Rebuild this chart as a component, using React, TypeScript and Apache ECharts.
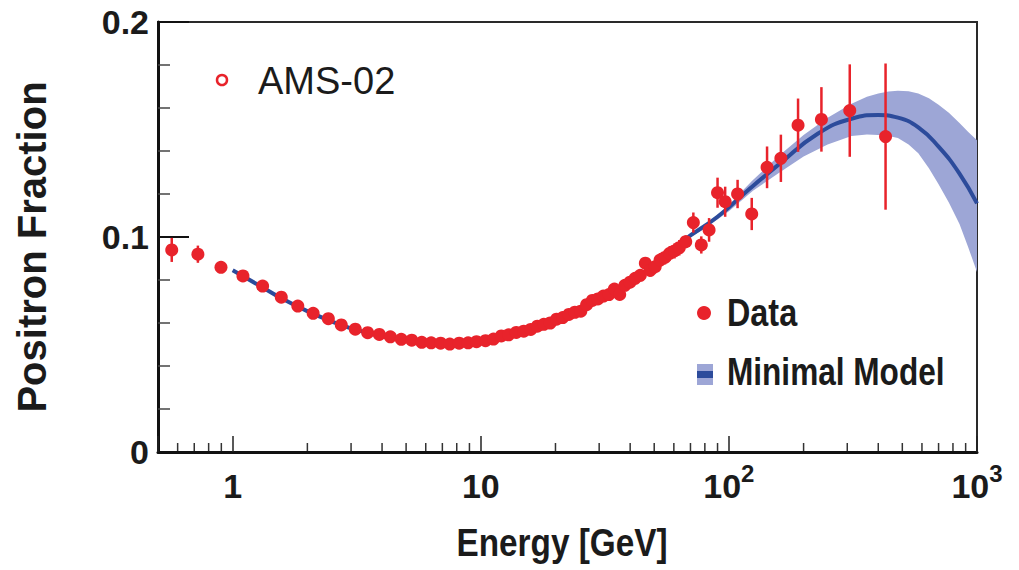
import React, { useEffect, useRef } from "react";
import * as echarts from "echarts";

// ---- Data ----
const dataEnergy = [
  0.568, 0.724, 0.897, 1.1, 1.32, 1.57, 1.83, 2.11, 2.43, 2.74, 3.12, 3.5, 3.9, 4.32, 4.78, 5.27, 5.78, 6.31,
  6.89, 7.5, 8.18, 8.89, 9.61, 10.45, 11.25, 12.1, 12.95, 13.9, 14.9, 15.9, 16.9, 17.95, 19.05, 20.2, 21.4,
  22.65, 23.95, 25.3, 26.7, 28.15, 29.65, 31.2, 32.85, 34.55, 36.3, 38.1, 39.95, 41.9, 43.95, 46.05, 48.2,
  50.45, 52.8, 55.25, 57.75, 60.35, 63.1, 67, 71.9, 77.4, 83.2, 90, 96.6, 108.4, 123.6, 142.5, 162, 190, 236,
  307, 428,
];
const dataFraction = [
  0.094, 0.092, 0.0859, 0.0819, 0.0772, 0.072, 0.0679, 0.0645, 0.062, 0.0591, 0.0571, 0.0555, 0.0547, 0.0536,
  0.0524, 0.052, 0.051, 0.0508, 0.0506, 0.0502, 0.0506, 0.0508, 0.0513, 0.0518, 0.0525, 0.054, 0.0545, 0.0556,
  0.0562, 0.057, 0.0585, 0.0594, 0.06, 0.0618, 0.0625, 0.064, 0.065, 0.0655, 0.0685, 0.0705, 0.0712, 0.0725,
  0.0732, 0.0758, 0.0733, 0.0775, 0.079, 0.0808, 0.0822, 0.0878, 0.0845, 0.0862, 0.0893, 0.0905, 0.0924,
  0.0935, 0.095, 0.0978, 0.1067, 0.0963, 0.1033, 0.1206, 0.1164, 0.12, 0.1107, 0.1324, 0.1366, 0.152, 0.1547,
  0.1588, 0.1467,
];
const dataError = [
  0.0056, 0.004, 0.0015, 0.001, 0.001, 0.001, 0.001, 0.001, 0.001, 0.001, 0.001, 0.001, 0.001, 0.001, 0.001,
  0.001, 0.001, 0.001, 0.001, 0.001, 0.001, 0.001, 0.001, 0.0011, 0.0011, 0.0012, 0.0012, 0.0013, 0.0013,
  0.0014, 0.0014, 0.0015, 0.0015, 0.0016, 0.0016, 0.0017, 0.0018, 0.0018, 0.0019, 0.002, 0.002, 0.0021, 0.0022,
  0.0023, 0.0024, 0.0025, 0.0026, 0.0027, 0.0028, 0.0029, 0.003, 0.0031, 0.0032, 0.0033, 0.0034, 0.0035,
  0.0036, 0.003, 0.0047, 0.004, 0.0055, 0.007, 0.007, 0.0066, 0.0075, 0.0097, 0.011, 0.0124, 0.015, 0.0215,
  0.034,
];

const modelEnergy = [
  1, 1.3, 1.6, 2, 2.5, 3, 4, 5, 6, 7.5, 10, 13, 17, 22, 30, 40, 50, 66, 90, 120, 160, 228, 312, 400, 480, 580,
  700, 850, 1000,
];
const modelFraction = [
  0.0845, 0.077, 0.071, 0.0655, 0.0608, 0.0575, 0.0538, 0.0521, 0.0512, 0.0506, 0.0512, 0.0535, 0.058, 0.063,
  0.0705, 0.0795, 0.087, 0.0986, 0.1094, 0.122, 0.134, 0.148, 0.155, 0.1567, 0.1555, 0.151, 0.142, 0.1295,
  0.1156,
];

const bandEnergy = [66, 80, 100, 125, 160, 200, 250, 312, 360, 400, 440, 480, 530, 580, 640, 700, 770, 850, 920, 1000];
const bandLow = [
  0.0983, 0.104, 0.112, 0.1215, 0.13, 0.1375, 0.143, 0.147, 0.1477, 0.1475, 0.147, 0.146, 0.143, 0.139, 0.132,
  0.1245, 0.116, 0.106, 0.0955, 0.0837,
];
const bandHigh = [
  0.0989, 0.1052, 0.115, 0.1265, 0.138, 0.1475, 0.1555, 0.162, 0.1652, 0.1668, 0.1677, 0.168, 0.1678, 0.1668,
  0.1645, 0.1615, 0.1578, 0.153, 0.149, 0.145,
];

const xMajorValues = [1, 10, 100, 1000];
const xMajorLabels = ["{b|1}", "{b|10}", "{b|10}{sup|2}", "{b|10}{sup|3}"];
const xMinorTicks = [
  0.6, 0.7, 0.8, 0.9, 2, 3, 4, 5, 6, 7, 8, 9, 20, 30, 40, 50, 60, 70, 80, 90, 200, 300, 400, 500, 600, 700, 800,
  900,
];
const yTickLabels = ["0", "0.1", "0.2"];

const RED = "#e8232b";
const BLUE = "#2c4b9b";
const BAND = "#9da6d6";
const INK = "#1b1b1b";
const SANS = "'Liberation Sans', Arial, sans-serif";

export default function App() {
  const ref = useRef<HTMLDivElement>(null);

  useEffect(() => {
    if (!ref.current) return;
    const chart = echarts.init(ref.current, null, { renderer: "svg" });

    const option: any = {
      animation: false,
      backgroundColor: "#ffffff",
      grid: {
        left: 158,
        top: 22,
        right: 42,
        bottom: 118,
        show: true,
        borderColor: "#2a2a2a",
        borderWidth: 2,
        backgroundColor: "transparent",
      },
      xAxis: {
        type: "log",
        logBase: 10,
        min: 0.5,
        max: 1000,
        axisLine: { show: true, lineStyle: { color: "#111", width: 3 } },
        axisTick: { show: true, inside: true, length: 16, lineStyle: { color: "#222", width: 1.5 } },
        splitLine: { show: false },
        minorTick: { show: false },
        axisLabel: {
          margin: 17,
          color: INK,
          formatter: (v: number) => {
            const i = xMajorValues.findIndex((m) => Math.abs(Math.log10(v) - Math.log10(m)) < 1e-6);
            return i >= 0 ? xMajorLabels[i] : "";
          },
          rich: {
            b: { fontFamily: SANS, fontWeight: "bold", fontSize: 34, color: INK, lineHeight: 34, padding: [8, 0, 0, 0], verticalAlign: "bottom" },
            sup: { fontFamily: SANS, fontWeight: "bold", fontSize: 24, color: INK, lineHeight: 24, padding: [0, 0, 18, 0], verticalAlign: "bottom" },
          },
        },
      },
      yAxis: {
        type: "value",
        min: 0,
        max: 0.2,
        interval: 0.1,
        name: "Positron Fraction",
        nameLocation: "middle",
        nameRotate: 90,
        nameGap: 106,
        nameTextStyle: { fontFamily: SANS, fontWeight: "bold", fontSize: 40, color: INK, padding: [0, 20, 0, 0] },
        axisLine: { show: true, lineStyle: { color: "#111", width: 3 } },
        axisTick: { show: true, inside: true, length: 31, lineStyle: { color: "#111", width: 2 } },
        minorTick: { show: true, splitNumber: 5, length: 12, lineStyle: { color: "#444", width: 1.5 } },
        splitLine: { show: false },
        axisLabel: {
          margin: 9,
          fontFamily: SANS,
          fontWeight: "bold",
          fontSize: 34,
          color: INK,
          formatter: (v: number) => yTickLabels[Math.round(v * 10)] ?? "",
        },
      },
      series: [
        {
          type: "custom",
          name: "band",
          z: 1,
          silent: true,
          data: bandEnergy.map((e, i) => [e, bandLow[i], bandHigh[i]]),
          encode: { x: 0, y: [1, 2] },
          renderItem: (params: any, api: any) => {
            if (params.dataIndex !== 0) return null;
            const upper = bandEnergy.map((e, i) => api.coord([e, bandHigh[i]]));
            const lower = bandEnergy.map((e, i) => api.coord([e, bandLow[i]])).reverse();
            return {
              type: "polygon",
              shape: { points: upper.concat(lower) },
              style: { fill: BAND, stroke: null },
            };
          },
        },
        {
          type: "line",
          name: "Minimal Model",
          z: 2,
          silent: true,
          smooth: true,
          showSymbol: false,
          data: modelEnergy.map((e, i) => [e, modelFraction[i]]),
          lineStyle: { color: BLUE, width: 4 },
        },
        {
          type: "custom",
          name: "errors",
          z: 3,
          silent: true,
          data: dataEnergy.map((e, i) => [e, dataFraction[i] - dataError[i], dataFraction[i] + dataError[i]]),
          encode: { x: 0, y: [1, 2] },
          renderItem: (_p: any, api: any) => {
            const lo = api.coord([api.value(0), api.value(1)]);
            const hi = api.coord([api.value(0), api.value(2)]);
            return {
              type: "line",
              shape: { x1: lo[0], y1: lo[1], x2: hi[0], y2: hi[1] },
              style: { stroke: RED, lineWidth: 2.5 },
            };
          },
        },
        {
          type: "scatter",
          name: "Data",
          z: 4,
          silent: true,
          symbol: "circle",
          symbolSize: 13,
          itemStyle: { color: RED, opacity: 1 },
          data: dataEnergy.map((e, i) => [e, dataFraction[i]]),
        },
        {
          type: "custom",
          name: "minorTicks",
          z: 5,
          silent: true,
          data: xMinorTicks.map((v) => [v, 0]),
          encode: { x: 0, y: 1 },
          renderItem: (_p: any, api: any) => {
            const p = api.coord([api.value(0), 0]);
            return {
              type: "line",
              shape: { x1: p[0], y1: p[1] - 1, x2: p[0], y2: p[1] - 9 },
              style: { stroke: "#333", lineWidth: 1.5 },
            };
          },
        },
      ],
      graphic: [
        { type: "circle", shape: { cx: 222, cy: 80, r: 5 }, style: { fill: "#fff", stroke: RED, lineWidth: 2.5 } },
        {
          type: "text",
          x: 258,
          y: 81,
          style: { text: "AMS-02", font: `38px ${SANS}`, fill: INK, textAlign: "left", textVerticalAlign: "middle" },
        },
        { type: "circle", shape: { cx: 704, cy: 313, r: 7 }, style: { fill: RED } },
        {
          type: "text",
          x: 727,
          y: 313,
          scaleX: 0.83,
          style: { text: "Data", font: `bold 39px ${SANS}`, fill: INK, textAlign: "left", textVerticalAlign: "middle" },
        },
        { type: "rect", shape: { x: 697, y: 364, width: 16, height: 21 }, style: { fill: BAND } },
        { type: "rect", shape: { x: 697, y: 371, width: 16, height: 7 }, style: { fill: BLUE } },
        {
          type: "text",
          x: 727,
          y: 372,
          scaleX: 0.81,
          style: { text: "Minimal Model", font: `bold 39px ${SANS}`, fill: INK, textAlign: "left", textVerticalAlign: "middle" },
        },
        {
          type: "text",
          x: 562,
          y: 543,
          scaleX: 0.855,
          style: { text: "Energy [GeV]", font: `bold 39px ${SANS}`, fill: INK, textAlign: "center", textVerticalAlign: "middle" },
        },
      ],
    };

    chart.setOption(option);
    return () => chart.dispose();
  }, []);

  return (
    <div
      ref={ref}
      style={{ position: "fixed", left: 0, top: 0, width: 1019, height: 570, background: "#fff" }}
    />
  );
}
